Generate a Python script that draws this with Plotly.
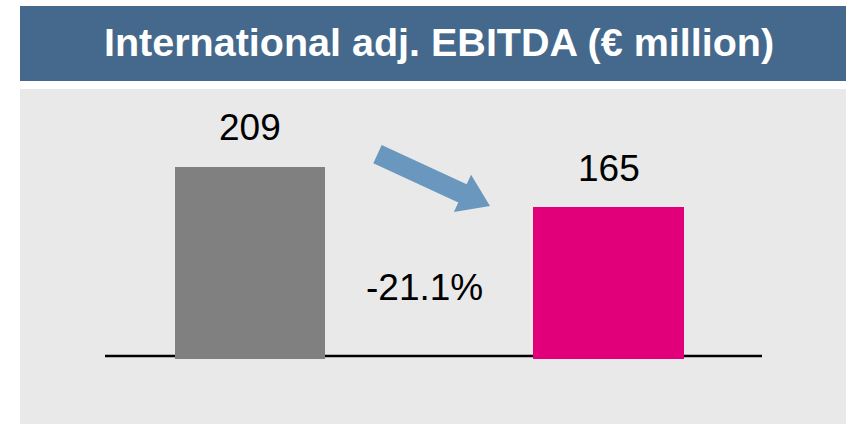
import plotly.graph_objects as go
import math

# ---- data ----
categories = ["Prior year", "Current year"]
values = [209, 165]
value_labels = ["209", "165"]
change_label = "-21.1%"
bar_colors = ["#808080", "#E2007A"]
title_text = "International adj. EBITDA (€ million)"

# ---- layout geometry (pixels) ----
W, H = 846, 424
L, R, T, B = 20, 0, 89, 0
PW, PH = W - L - R, H - T - B


def px(x):
    return (x - L) / PW


def py(y):
    return (H - B - y) / PH


fig = go.Figure()
fig.add_trace(go.Bar(
    x=[0, 1], y=values, width=0.42,
    marker=dict(color=bar_colors, line=dict(width=0)),
    hoverinfo="skip", showlegend=False,
))

annotations = []
for i, (v, lab) in enumerate(zip(values, value_labels)):
    annotations.append(dict(
        x=i, y=v, xref="x", yref="y", text=lab, showarrow=False,
        yanchor="middle", yshift=39,
        font=dict(family="Liberation Sans, Arial, sans-serif", size=37, color="#000000"),
    ))
annotations.append(dict(
    x=0.486, y=py(287), xref="x", yref="paper", text=change_label,
    showarrow=False, xanchor="center", yanchor="middle",
    font=dict(family="Liberation Sans, Arial, sans-serif", size=37, color="#000000"),
))
annotations.append(dict(
    x=px(439), y=py(42), xref="paper", yref="paper", text="<b>" + title_text + "</b>",
    showarrow=False, xanchor="center", yanchor="middle",
    font=dict(family="Liberation Sans, Arial, sans-serif", size=39.5, color="#FFFFFF"),
))

# arrow polygon (decoration)
tail = (377.5, 154.2)
tip = (490.0, 206.0)
shaft_w, head_w, head_len = 20.0, 41.0, 30.3
dx, dy = tip[0] - tail[0], tip[1] - tail[1]
ln = math.hypot(dx, dy)
ux, uy = dx / ln, dy / ln
nx, ny = -uy, ux
base = (tip[0] - ux * head_len, tip[1] - uy * head_len)
pts = [
    (tail[0] + nx * shaft_w / 2, tail[1] + ny * shaft_w / 2),
    (base[0] + nx * shaft_w / 2, base[1] + ny * shaft_w / 2),
    (base[0] + nx * head_w / 2, base[1] + ny * head_w / 2),
    tip,
    (base[0] - nx * head_w / 2, base[1] - ny * head_w / 2),
    (base[0] - nx * shaft_w / 2, base[1] - ny * shaft_w / 2),
    (tail[0] - nx * shaft_w / 2, tail[1] - ny * shaft_w / 2),
]
path = "M " + " L ".join(f"{px(a):.5f},{py(b):.5f}" for a, b in pts) + " Z"

shapes = [
    # title bar
    dict(type="rect", xref="paper", yref="paper", x0=0, x1=1, y0=py(81), y1=py(6),
         fillcolor="#44698C", line=dict(width=0), layer="below"),
    # baseline
    dict(type="line", xref="paper", yref="paper", x0=px(105), x1=px(762), y0=py(356), y1=py(356),
         line=dict(color="#000000", width=2.5), layer="below"),
    # arrow
    dict(type="path", xref="paper", yref="paper", path=path,
         fillcolor="#6A97BD", line=dict(width=0)),
]

zero_px = 359
scale = 0.92
ymin = -(H - B - zero_px) / scale
ymax = (PH - (H - B - zero_px)) / scale

bc0, spacing = 250.0, 358.5
xmin = (L - bc0) / spacing
xmax = (W - R - bc0) / spacing

fig.update_layout(
    width=W, height=H,
    margin=dict(l=L, r=R, t=T, b=B, pad=0),
    paper_bgcolor="#FFFFFF", plot_bgcolor="#E9E9E9",
    xaxis=dict(range=[xmin, xmax], visible=False, fixedrange=True),
    yaxis=dict(range=[ymin, ymax], visible=False, fixedrange=True),
    shapes=shapes, annotations=annotations,
    bargap=0, showlegend=False,
)

fig.write_html(
    "out.html",
    config={"displayModeBar": False},
    post_script="document.body.style.margin='0';document.body.style.overflow='hidden';",
)
